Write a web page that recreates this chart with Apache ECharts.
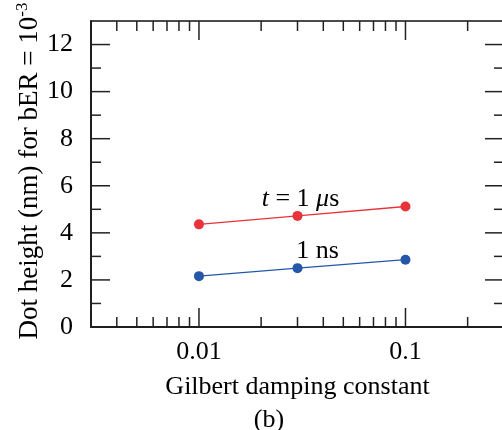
<!DOCTYPE html>
<html>
<head>
<meta charset="utf-8">
<script src="https://cdn.jsdelivr.net/npm/echarts@6/dist/echarts.min.js"></script>
<style>
  html, body { margin: 0; padding: 0; background: #ffffff; }
  #chart { width: 502px; height: 430px; }
</style>
</head>
<body>
<div id="chart"></div>
<script>
// Gilbert damping constant (x) against dot height (y)
const damping = [0.01, 0.03, 0.1];
const height1us = [4.36, 4.72, 5.12];
const height1ns = [2.16, 2.50, 2.86];

const xRange = [0.003, 0.3];
const yRange = [0, 13];
const xMajorTicks = [0.01, 0.1];
const xMinorTicks = [0.004, 0.005, 0.006, 0.007, 0.008, 0.009,
                     0.02, 0.03, 0.04, 0.05, 0.06, 0.07, 0.08, 0.09, 0.2];
const yMajorTicks = [0, 2, 4, 6, 8, 10, 12];
const yMinorTicks = [1, 3, 5, 7, 9, 11];

const FONT = '"Liberation Serif", "DejaVu Serif", serif';
const RED = '#e8333a';
const BLUE = '#2457a8';
const TICK = { stroke: '#222', lineWidth: 1.5 };
const MAJOR_LEN = 19, MINOR_LEN = 10;

const chart = echarts.init(document.getElementById('chart'), null, { renderer: 'canvas' });

// inward ticks on all four sides
const xTickData = xMajorTicks.map(v => [v, 1]).concat(xMinorTicks.map(v => [v, 0]));
const yTickData = yMajorTicks.map(v => [xRange[0], v, 1]).concat(yMinorTicks.map(v => [xRange[0], v, 0]));

function renderXTick(params, api) {
  const v = api.value(0);
  const len = api.value(1) ? MAJOR_LEN : MINOR_LEN;
  const b = api.coord([v, yRange[0]]);
  const t = api.coord([v, yRange[1]]);
  return {
    type: 'group',
    children: [
      { type: 'line', shape: { x1: b[0], y1: b[1], x2: b[0], y2: b[1] - len }, style: TICK },
      { type: 'line', shape: { x1: t[0], y1: t[1], x2: t[0], y2: t[1] + len }, style: TICK }
    ]
  };
}
function renderYTick(params, api) {
  const v = api.value(1);
  const len = api.value(2) ? MAJOR_LEN : MINOR_LEN;
  const l = api.coord([xRange[0], v]);
  const r = api.coord([xRange[1], v]);
  return {
    type: 'group',
    children: [
      { type: 'line', shape: { x1: l[0], y1: l[1], x2: l[0] + len, y2: l[1] }, style: TICK },
      { type: 'line', shape: { x1: r[0], y1: r[1], x2: r[0] - len, y2: r[1] }, style: TICK }
    ]
  };
}

function seriesData(ys, labelIdx, labelOpt) {
  return damping.map((x, i) => {
    const item = { value: [x, ys[i]] };
    if (i === labelIdx) item.label = labelOpt;
    return item;
  });
}

const labelBase = { show: true, position: 'top', color: '#000', fontFamily: FONT, fontSize: 26 };

const option = {
  backgroundColor: '#ffffff',
  animation: false,
  grid: {
    left: 91, top: 21, width: 413, height: 306,
    show: true, borderColor: '#111', borderWidth: 1.5,
    containLabel: false, outerBoundsMode: 'none'
  },
  xAxis: {
    type: 'log', logBase: 10, min: xRange[0], max: xRange[1],
    axisLine: { show: true, lineStyle: { color: '#111', width: 1.5 } },
    axisTick: { show: false },
    minorTick: { show: false },
    splitLine: { show: false },
    axisLabel: {
      margin: 12, color: '#000', fontFamily: FONT, fontSize: 26,
      formatter: v => {
        const lg = Math.log10(v);
        return Math.abs(lg - Math.round(lg)) < 1e-6 ? String(Math.pow(10, Math.round(lg))) : '';
      }
    },
    name: 'Gilbert damping constant',
    nameLocation: 'middle', nameGap: 47,
    nameTextStyle: { color: '#000', fontFamily: FONT, fontSize: 26 }
  },
  yAxis: {
    type: 'value', min: yRange[0], max: yRange[1], interval: 2,
    axisLine: { show: true, lineStyle: { color: '#111', width: 1.5 } },
    axisTick: { show: false },
    splitLine: { show: false },
    axisLabel: {
      margin: 18, color: '#000', fontFamily: FONT, fontSize: 26,
      formatter: v => (yMajorTicks.indexOf(v) >= 0 ? String(v) : '')
    }
  },
  graphic: [
    {
      type: 'text', x: 30, y: 171, rotation: Math.PI / 2,
      style: {
        text: 'Dot height (nm) for bER = 10{sup|-3}',
        fill: '#000', font: '27px ' + FONT,
        align: 'center', verticalAlign: 'middle',
        rich: { sup: { fontSize: 17, fontFamily: FONT, verticalAlign: 'top', lineHeight: 31, fill: '#000' } }
      }
    },
    {
      type: 'text', x: 269, y: 420,
      style: { text: '(b)', fill: '#000', font: '26px ' + FONT, align: 'center', verticalAlign: 'middle' }
    }
  ],
  series: [
    {
      type: 'custom', renderItem: renderXTick, data: xTickData,
      encode: { x: 0, y: 1 }, silent: true, z: 1, clip: false
    },
    {
      type: 'custom', renderItem: renderYTick, data: yTickData,
      encode: { x: 0, y: 1 }, silent: true, z: 1, clip: false
    },
    {
      name: '1 μs', type: 'line',
      data: seriesData(height1us, 1, Object.assign({}, labelBase, {
        offset: [3, 6],
        formatter: '{i|t} = 1 {i|μ}s',
        rich: { i: { fontStyle: 'italic', fontFamily: FONT, fontSize: 26, color: '#000' } }
      })),
      symbol: 'circle', symbolSize: 10,
      itemStyle: { color: RED },
      lineStyle: { color: RED, width: 1.3 },
      z: 3
    },
    {
      name: '1 ns', type: 'line',
      data: seriesData(height1ns, 1, Object.assign({}, labelBase, {
        offset: [20, 6],
        formatter: '1 ns'
      })),
      symbol: 'circle', symbolSize: 10,
      itemStyle: { color: BLUE },
      lineStyle: { color: BLUE, width: 1.3 },
      z: 3
    }
  ]
};

chart.setOption(option);
</script>
</body>
</html>
